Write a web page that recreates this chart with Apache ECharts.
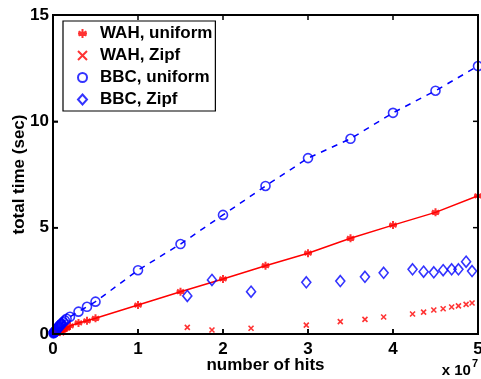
<!DOCTYPE html>
<html><head><meta charset="utf-8">
<script src="https://cdn.jsdelivr.net/npm/echarts@6/dist/echarts.min.js"></script>
<style>html,body{margin:0;padding:0;background:#fff}#c{width:481px;height:379px}</style>
</head><body><div id="c"></div>
<script>
// x values in units of 1e7 hits
const uniformX = [0.005,0.01,0.015,0.02,0.03,0.04,0.05,0.06,0.07,0.08,0.09,0.1,0.12,0.14,0.16,0.2,0.3,0.4,0.5,1,1.5,2,2.5,3,3.5,4,4.5,5];
const wahUniform = [0.01,0.02,0.03,0.035,0.05,0.07,0.09,0.1,0.12,0.14,0.16,0.18,0.21,0.25,0.28,0.38,0.52,0.62,0.74,1.36,1.99,2.59,3.21,3.8,4.5,5.12,5.72,6.5];
const bbcUniform = [0.03,0.06,0.08,0.1,0.15,0.2,0.25,0.3,0.35,0.4,0.44,0.48,0.56,0.64,0.72,0.81,1.05,1.28,1.52,3.0,4.23,5.6,6.96,8.27,9.18,10.4,11.44,12.6];
const zipfX = [0.01,0.03,0.06,0.1,1.58,1.87,2.33,2.98,3.38,3.67,3.89,4.23,4.36,4.48,4.59,4.69,4.77,4.86,4.93];
const wahZipf = [0.01,0.02,0.03,0.05,0.31,0.19,0.27,0.42,0.58,0.69,0.8,0.94,1.03,1.13,1.19,1.27,1.32,1.39,1.46];
const bbcZipf = [0.1,0.2,0.35,0.5,1.79,2.54,1.99,2.43,2.49,2.69,2.88,3.04,2.93,2.9,3.0,3.04,3.04,3.4,2.96];
const xTicks = [0,1,2,3,4,5];
const yTicks = [0,5,10,15];

const pair = (xs, ys) => xs.map((x, i) => [x, ys[i]]);
const RED = '#ff0000', BLUE = '#0000ff';
const FONT = 'Liberation Sans, Arial, sans-serif';
const asterisk = 'path://M0,-10L0,10M-8.66,-5L8.66,5M-8.66,5L8.66,-5M-10,0L10,0';
const cross = 'path://M-10,-10L10,10M-10,10L10,-10';
const xMax = xTicks[xTicks.length - 1], yMax = yTicks[yTicks.length - 1];

const chart = echarts.init(document.getElementById('c'), null, {renderer: 'canvas'});
function axis(extra) {
  return Object.assign({
    type: 'value', min: 0,
    axisLine: {show: true, onZero: false, lineStyle: {color: '#000', width: 2}},
    axisTick: {show: true, inside: true, length: 5, lineStyle: {color: '#000', width: 1.5}},
    splitLine: {show: false}
  }, extra);
}
const labelStyle = {fontFamily: FONT, fontWeight: 'bold', fontSize: 17, color: '#000'};
chart.setOption({
  animation: false,
  backgroundColor: '#fff',
  grid: {left: 53, right: 3, top: 15, bottom: 45, outerBoundsMode: 'none'},
  legend: {
    show: true, left: 63, top: 21, orient: 'vertical',
    padding: [4, 3, 3, 14], itemGap: 5,
    backgroundColor: '#fff', borderColor: '#000', borderWidth: 1.2, borderRadius: 0,
    itemWidth: 9, itemHeight: 10,
    textStyle: Object.assign({lineHeight: 16, padding: [0, 0, 0, 8]}, labelStyle),
    data: ['WAH, uniform', 'WAH, Zipf', 'BBC, uniform', 'BBC, Zipf']
  },
  xAxis: axis({max: xMax, interval: 1, position: 'bottom',
    name: 'number of hits', nameLocation: 'middle', nameGap: 23, nameMoveOverlap: false, nameTextStyle: labelStyle,
    axisLabel: Object.assign({show: true, margin: 7, formatter: v => xTicks.includes(v) ? String(v) : ''}, labelStyle)}),
  yAxis: axis({max: yMax, interval: 5, position: 'left',
    name: 'total time (sec)', nameLocation: 'middle', nameGap: 25, nameMoveOverlap: false, nameRotate: 90, nameTextStyle: labelStyle,
    axisLabel: Object.assign({show: true, margin: 4, formatter: v => yTicks.includes(v) ? String(v) : ''}, labelStyle)}),
  series: [
    {name: 'wahLine', type: 'line', data: pair(uniformX, wahUniform), showSymbol: false, silent: true,
      lineStyle: {color: RED, width: 1.5}, z: 1},
    {name: 'bbcLine', type: 'line', data: pair(uniformX, bbcUniform), showSymbol: false, silent: true,
      lineStyle: {color: BLUE, width: 1.5, type: [6, 6]}, z: 1},
    {name: 'WAH, uniform', type: 'scatter', data: pair(uniformX, wahUniform), symbol: asterisk, symbolSize: 8, clip: false,
      itemStyle: {color: 'rgba(0,0,0,0)', borderColor: RED, borderWidth: 2}, z: 3},
    {name: 'WAH, Zipf', type: 'scatter', data: pair(zipfX, wahZipf), symbol: cross, symbolSize: 5, clip: false,
      itemStyle: {color: 'rgba(0,0,0,0)', borderColor: RED, borderWidth: 1.6}, z: 3},
    {name: 'BBC, uniform', type: 'scatter', data: pair(uniformX, bbcUniform), symbol: 'circle', symbolSize: 9, clip: false,
      itemStyle: {color: 'rgba(0,0,0,0)', borderColor: BLUE, borderWidth: 1.6}, z: 3},
    {name: 'BBC, Zipf', type: 'scatter', data: pair(zipfX, bbcZipf), symbol: 'diamond', symbolSize: [9, 11], clip: false,
      itemStyle: {color: 'rgba(0,0,0,0)', borderColor: BLUE, borderWidth: 1.6}, z: 3}
  ]
});

// Box frame and mirrored inward ticks, positioned through the chart's own scales
const p0 = chart.convertToPixel({gridIndex: 0}, [0, 0]);
const p1 = chart.convertToPixel({gridIndex: 0}, [xMax, yMax]);
const frameEls = [{
  type: 'rect', silent: true, z: 100,
  shape: {x: p0[0], y: p1[1], width: p1[0] - p0[0], height: p0[1] - p1[1]},
  style: {fill: 'none', stroke: '#000', lineWidth: 2}
}];
xTicks.forEach(t => {
  const px = chart.convertToPixel({gridIndex: 0}, [t, 0])[0];
  frameEls.push({type: 'line', silent: true, z: 100, shape: {x1: px, y1: p1[1], x2: px, y2: p1[1] + 5}, style: {stroke: '#000', lineWidth: 1.5}});
  frameEls.push({type: 'line', silent: true, z: 100, shape: {x1: px, y1: p0[1], x2: px, y2: p0[1] - 5}, style: {stroke: '#000', lineWidth: 1.5}});
});
yTicks.forEach(t => {
  const py = chart.convertToPixel({gridIndex: 0}, [0, t])[1];
  frameEls.push({type: 'line', silent: true, z: 100, shape: {x1: p1[0], y1: py, x2: p1[0] - 5, y2: py}, style: {stroke: '#000', lineWidth: 1.5}});
  frameEls.push({type: 'line', silent: true, z: 100, shape: {x1: p0[0], y1: py, x2: p0[0] + 5, y2: py}, style: {stroke: '#000', lineWidth: 1.5}});
});
frameEls.push({
  type: 'text', right: 3, top: 358, z: 100,
  style: {
    text: '{a|x 10}{b|7}', fill: '#000',
    rich: {
      a: {fontFamily: FONT, fontWeight: 'bold', fontSize: 15, verticalAlign: 'bottom', padding: [5, 0, 0, 0]},
      b: {fontFamily: FONT, fontWeight: 'bold', fontSize: 11, verticalAlign: 'top', padding: [0, 0, 5, 1]}
    }
  }
});
chart.setOption({graphic: frameEls});
</script></body></html>
